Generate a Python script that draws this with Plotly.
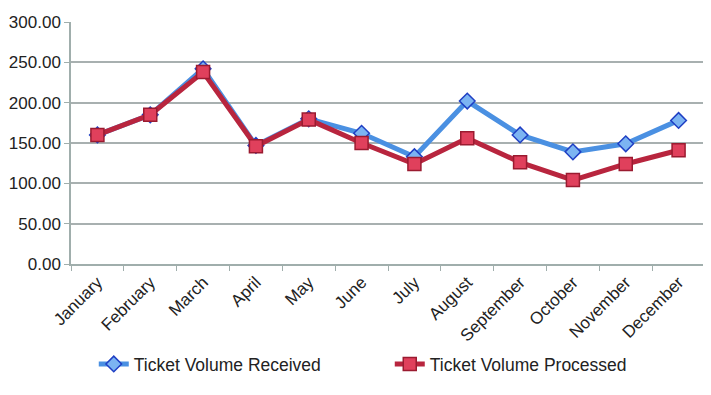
import plotly.graph_objects as go

months = ["January", "February", "March", "April", "May", "June", "July",
          "August", "September", "October", "November", "December"]
received = [160, 185, 242, 147, 180, 162, 133, 202, 160, 139, 149, 178]
processed = [160, 185, 238, 146, 179, 150, 124, 156, 126, 104, 124, 141]

fig = go.Figure()
fig.add_trace(go.Scatter(
    x=months, y=received, name="Ticket Volume Received", mode="lines+markers",
    line=dict(color="#4a90e2", width=5),
    marker=dict(symbol="diamond", size=12, color="#7cb4f2",
                line=dict(color="#1f3fc4", width=1.5)),
))
fig.add_trace(go.Scatter(
    x=months, y=processed, name="Ticket Volume Processed", mode="lines+markers",
    line=dict(color="#b8253e", width=5),
    marker=dict(symbol="square", size=13, color="#e0405c",
                line=dict(color="#9a1b30", width=1.5)),
))

fig.update_layout(
    width=703, height=387,
    margin=dict(l=63, r=6, t=14, b=131, autoexpand=False),
    paper_bgcolor="white", plot_bgcolor="white",
    font=dict(family="Liberation Sans, Arial, sans-serif", size=17, color="#222"),
    showlegend=True,
    legend=dict(orientation="h", x=0.122, y=0.08, xref="container", yref="container",
                xanchor="left", yanchor="middle",
                entrywidth=251, entrywidthmode="pixels",
                font=dict(size=17.5), itemwidth=30),
    xaxis=dict(type="category", range=[-0.5, len(months) - 0.5], tickangle=-45,
               showgrid=False,
               showline=True, linecolor="#a0aeac", linewidth=1.5,
               ticks="outside", tickson="boundaries", ticklen=5, tickcolor="#a0aeac",
               tickfont=dict(size=17), automargin=False),
    yaxis=dict(range=[0, 300], dtick=50, tickformat=".2f",
               showgrid=True, gridcolor="#a8b0b0", gridwidth=1.5,
               showline=True, linecolor="#a0aeac", linewidth=1.5,
               ticks="outside", ticklen=5, tickcolor="#a0aeac",
               zeroline=False, tickfont=dict(size=17), automargin=False),
)

fig.write_html("out.html")
